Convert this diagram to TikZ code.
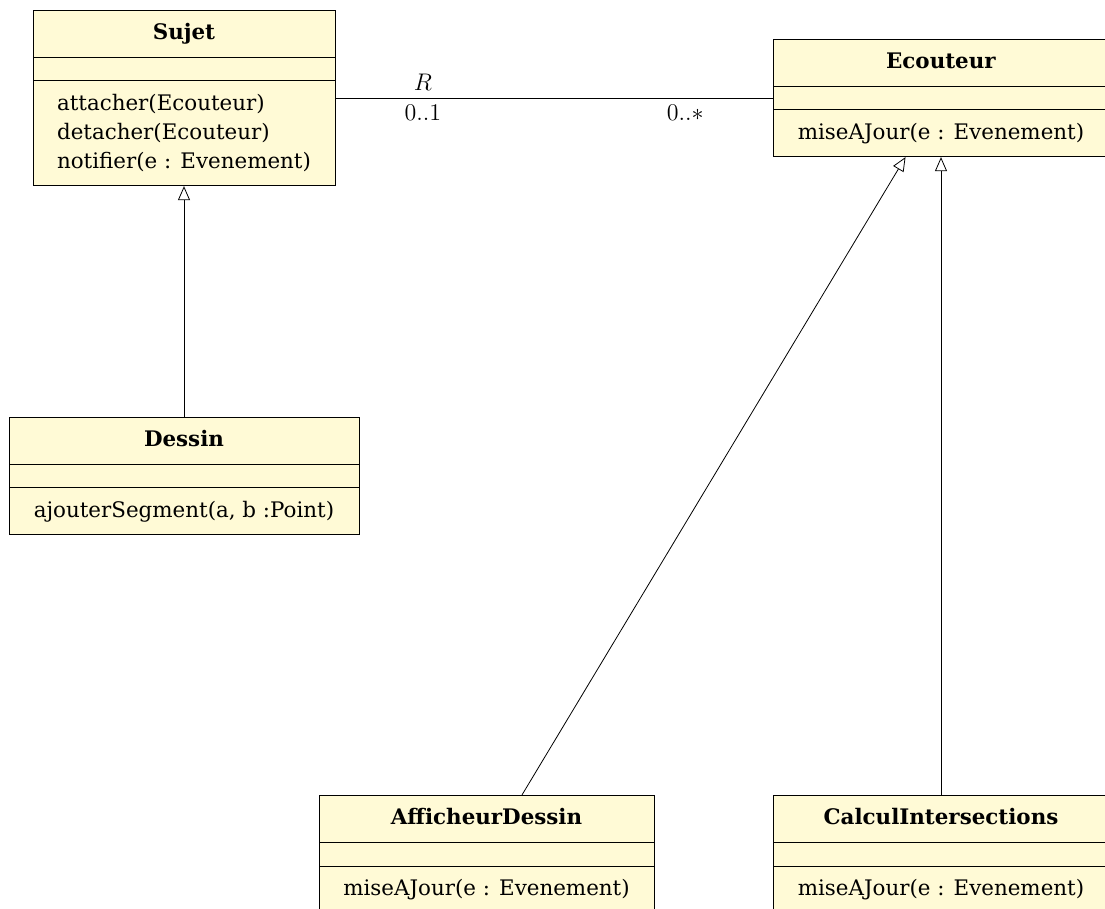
\documentclass[tikz,border=0pt]{standalone}
\usepackage[no-math]{fontspec}
\setmainfont{DejaVu Serif}
\usetikzlibrary{arrows.meta,positioning,shapes.multipart}
\definecolor{classfill}{RGB}{255,250,214}

\begin{document}
\begin{tikzpicture}[x=1pt,y=1pt,on grid,
  umlclass/.style={rectangle split,rectangle split parts=3,draw,fill=classfill,
    align=left,font=\fontsize{10.7}{14.5}\selectfont,inner ysep=4.25pt,
    rectangle split empty part height=3pt},
  mult/.style={font=\fontsize{12}{14}\selectfont}]
          \useasboundingbox (0,0) rectangle (552.5,-454.5);
          \node[umlclass,minimum width=151pt]   (Sujet) at (92,-49)
            {\strut\textbf{Sujet}\nodepart{two}\rule{0pt}{3pt}\nodepart{three}\strut attacher(Ecouteur)\\detacher(Ecouteur)\\\strut notifier(e : Evenement)};
          \node[umlclass,minimum width=168pt]   (Ecouteur) [right=378.5pt of Sujet]
            {\strut\textbf{Ecouteur}\nodepart{two}\rule{0pt}{3pt}\nodepart{three}\strut miseAJour(e : Evenement)};
          \node[umlclass,minimum width=175pt]   (Dessin) [below=189pt of Sujet]
            {\strut\textbf{Dessin}\nodepart{two}\rule{0pt}{3pt}\nodepart{three}\strut ajouterSegment(a, b :Point)};
          \node[umlclass,minimum width=168pt]   (Calcul) [below=378pt of Ecouteur]
            {\strut\textbf{CalculIntersections}\nodepart{two}\rule{0pt}{3pt}\nodepart{three}\strut miseAJour(e : Evenement)};
          \node[umlclass,minimum width=167.5pt] (Afficheur) [left=227.25pt of Calcul]
            {\strut\textbf{AfficheurDessin}\nodepart{two}\rule{0pt}{3pt}\nodepart{three}\strut miseAJour(e : Evenement)};
          \tikzset{inherit/.style={-{Triangle[open,length=7pt,width=6pt]}}}
          \path (Sujet)     edge    node[mult,above,pos=0.2] {$R$}
                                    node[mult,below,pos=0.2] {$0..1$}
                                    node[mult,below,pos=0.8] {$0..*$} (Ecouteur)
          (Dessin)    edge [inherit] (Sujet)
          (Afficheur) edge [inherit] (Ecouteur)
          (Calcul)    edge [inherit] (Ecouteur);
        \end{tikzpicture}
\end{document}
